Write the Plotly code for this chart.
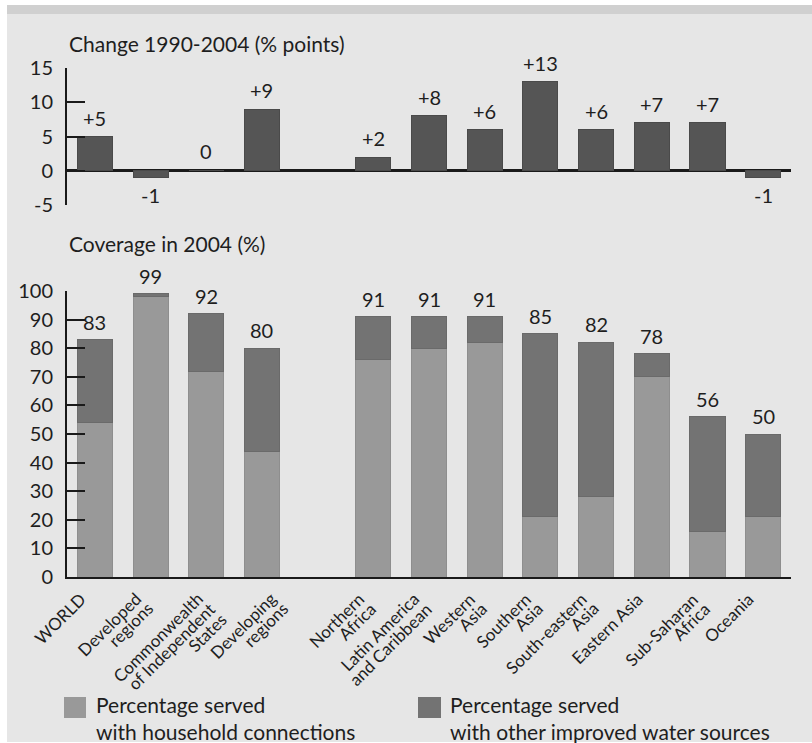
import plotly.graph_objects as go

# Regions in display order; a blank slot separates the aggregates from the sub-regions
regions = ["WORLD", "Developed regions", "Commonwealth of Independent States",
           "Developing regions", "Northern Africa", "Latin America and Caribbean",
           "Western Asia", "Southern Asia", "South-eastern Asia", "Eastern Asia",
           "Sub-Saharan Africa", "Oceania"]
# axis label lines for each region
tick_lines = [["WORLD"], ["Developed", "regions"], ["Commonwealth", "of Independent", "States"],
              ["Developing", "regions"], ["Northern", "Africa"], ["Latin America", "and Caribbean"],
              ["Western", "Asia"], ["Southern", "Asia"], ["South-eastern", "Asia"], ["Eastern Asia"],
              ["Sub-Saharan", "Africa"], ["Oceania"]]
spacer = " "
category_order = regions[:4] + [spacer] + regions[4:]

# Change in coverage 1990-2004 (percentage points)
change_1990_2004 = [5, -1, 0, 9, 2, 8, 6, 13, 6, 7, 7, -1]
change_ticks = [-5, 0, 5, 10, 15]

# Coverage in 2004 (%)
coverage_total = [83, 99, 92, 80, 91, 91, 91, 85, 82, 78, 56, 50]
coverage_household = [54, 98, 72, 44, 76, 80, 82, 21, 28, 70, 16, 21]
coverage_other = [t - h for t, h in zip(coverage_total, coverage_household)]
coverage_ticks = list(range(0, 101, 10))

W, H = 812, 743
FONT = "Lato, 'Open Sans', sans-serif"
TXT = "#1e1e1e"
AX = "#1a1a1a"
C_HOUSE = "#999999"
C_OTHER = "#737373"
C_CHANGE = "#555555"
BG = "#e6e6e6"

# extra horizontal nudge (px) for crowded slanted labels
label_nudge = {"Commonwealth of Independent States": 6, "Developing regions": 24}


def px_y(y):
    return 1 - y / H


def px_x(x):
    return x / W


fig = go.Figure()

fig.add_trace(go.Bar(
    x=regions, y=change_1990_2004, xaxis="x2", yaxis="y2",
    marker=dict(color=C_CHANGE, line=dict(color="#4a4a4a", width=1)),
    name="Change 1990-2004", showlegend=False, hoverinfo="x+y",
))
fig.add_trace(go.Bar(
    x=regions, y=coverage_household, xaxis="x", yaxis="y",
    marker=dict(color=C_HOUSE, line=dict(color="#8e8e8e", width=1)),
    name="Percentage served with household connections", showlegend=False,
))
fig.add_trace(go.Bar(
    x=regions, y=coverage_other, xaxis="x", yaxis="y",
    marker=dict(color=C_OTHER, line=dict(color="#6a6a6a", width=1)),
    name="Percentage served with other improved water sources", showlegend=False,
))

annotations = []
# value labels on the change bars
for r, v in zip(regions, change_1990_2004):
    txt = f"+{v}" if v > 0 else str(v)
    annotations.append(dict(
        x=r, y=v, xref="x2", yref="y2", text=txt, showarrow=False,
        yanchor="bottom" if v >= 0 else "top", yshift=5 if v > 0 else (6 if v == 0 else -3),
        font=dict(family=FONT, size=20, color=TXT),
    ))
# total coverage labels above the stacked bars
for r, v in zip(regions, coverage_total):
    annotations.append(dict(
        x=r, y=v, xref="x", yref="y", text=str(v), showarrow=False,
        yanchor="bottom", yshift=4,
        font=dict(family=FONT, size=20, color=TXT),
    ))
# slanted category labels: one right-aligned line each, stacked across the slant
for r, lines in zip(regions, tick_lines):
    for k, line in enumerate(lines):
        annotations.append(dict(
            x=r, y=0, xref="x", yref="y", text=line, showarrow=False,
            textangle=-45, xanchor="right", yanchor="top", borderpad=0,
            xshift=-4 + 12 * k + label_nudge.get(r, 0), yshift=-10 - 10 * k,
            font=dict(family=FONT, size=17, color=TXT),
        ))
# panel titles
annotations.append(dict(x=px_x(67), y=px_y(44), xref="paper", yref="paper",
                        xanchor="left", yanchor="middle", showarrow=False,
                        text="Change 1990-2004 (% points)",
                        font=dict(family=FONT, size=21, color=TXT)))
annotations.append(dict(x=px_x(67), y=px_y(244), xref="paper", yref="paper",
                        xanchor="left", yanchor="middle", showarrow=False,
                        text="Coverage in 2004 (%)",
                        font=dict(family=FONT, size=21, color=TXT)))
# legend text
annotations.append(dict(x=px_x(94), y=px_y(718), xref="paper", yref="paper",
                        xanchor="left", yanchor="middle", showarrow=False, align="left",
                        text="Percentage served<br>with household connections",
                        font=dict(family=FONT, size=21, color=TXT)))
annotations.append(dict(x=px_x(448), y=px_y(718), xref="paper", yref="paper",
                        xanchor="left", yanchor="middle", showarrow=False, align="left",
                        text="Percentage served<br>with other improved water sources",
                        font=dict(family=FONT, size=21, color=TXT)))

shapes = [
    # panel background and top band
    dict(type="rect", xref="paper", yref="paper", x0=px_x(7), x1=1, y0=px_y(742), y1=px_y(5),
         fillcolor=BG, line=dict(width=0), layer="below"),
    dict(type="rect", xref="paper", yref="paper", x0=px_x(7), x1=1, y0=px_y(14), y1=px_y(5),
         fillcolor="#d0d0d0", line=dict(width=0), layer="below"),
    # legend swatches
    dict(type="rect", xref="paper", yref="paper", x0=px_x(64), x1=px_x(86),
         y0=px_y(718), y1=px_y(697), fillcolor=C_HOUSE, line=dict(width=0)),
    dict(type="rect", xref="paper", yref="paper", x0=px_x(418), x1=px_x(441),
         y0=px_y(718), y1=px_y(697), fillcolor=C_OTHER, line=dict(width=0)),
]

x_dom = [px_x(67), px_x(791)]
common_x = dict(type="category", categoryorder="array", categoryarray=category_order,
                range=[-0.5, len(category_order) - 0.5], domain=x_dom, fixedrange=True,
                automargin=False)

fig.update_layout(
    width=W, height=H,
    margin=dict(l=0, r=0, t=0, b=0, autoexpand=False),
    paper_bgcolor="white", plot_bgcolor="rgba(0,0,0,0)",
    barmode="stack", bargap=0.37,
    font=dict(family=FONT, color=TXT),
    xaxis=dict(**common_x, anchor="y", showticklabels=False,
               showline=True, linecolor=AX, linewidth=2, ticks="", showgrid=False),
    yaxis=dict(domain=[px_y(577), px_y(291)], range=[0, 100],
               tickvals=coverage_ticks, ticktext=[str(t) for t in coverage_ticks],
               ticks="inside", ticklen=18, tickwidth=2, tickcolor=AX,
               showline=True, linecolor=AX, linewidth=2, showgrid=False, zeroline=False,
               tickfont=dict(family=FONT, size=20, color=TXT), ticklabelstandoff=8,
               anchor="x", automargin=False),
    xaxis2=dict(**common_x, anchor="y2", showticklabels=False, showline=False,
                ticks="", showgrid=False),
    yaxis2=dict(domain=[px_y(205), px_y(68)], range=[-5, 15],
                tickvals=change_ticks, ticktext=[str(t) for t in change_ticks],
                ticks="inside", ticklen=18, tickwidth=2, tickcolor=AX,
                showline=True, linecolor=AX, linewidth=2, showgrid=False,
                zeroline=True, zerolinecolor=AX, zerolinewidth=3,
                tickfont=dict(family=FONT, size=20, color=TXT), ticklabelstandoff=8,
                anchor="x2", automargin=False),
    annotations=annotations,
    shapes=shapes,
)

fig.write_html("out.html")
